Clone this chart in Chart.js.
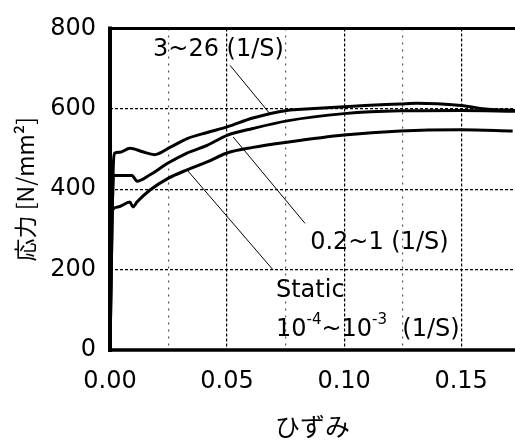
<!DOCTYPE html>
<html>
<head>
<meta charset="utf-8">
<script src="https://cdn.jsdelivr.net/npm/chart.js@4"></script>
<style>
    body { margin: 0; background: #fff; }
    #wrap { width: 515px; height: 441px; }
</style>
</head>
<body>
<div id="wrap"><canvas id="chart"></canvas></div>
<script>
// strain rate 3~26 (1/S) \/
const strainFast = [0, 0.0015, 0.002, 0.0043, 0.0085, 0.014, 0.019, 0.0256, 0.033, 0.0415, 0.050, 0.061, 0.0756, 0.080, 0.100, 0.109, 0.124, 0.131, 0.150, 0.1615, 0.173];
const stressFast = [0, 470, 490, 492, 502, 493, 486, 504, 526, 541, 555, 577, 596, 598, 605, 608, 612, 614, 608, 599, 596];
// strain rate 0.2~1 (1/S) \/
const strainMid = [0, 0.0015, 0.0094, 0.0115, 0.0171, 0.0248, 0.0329, 0.0415, 0.050, 0.061, 0.0756, 0.100, 0.124, 0.150, 0.173];
const stressMid = [0, 434, 434, 420, 436, 465, 490, 509, 534, 551, 570, 588, 595, 596, 594];
// static 10^-4~10^-3 (1/S) \/
const strainStatic = [0, 0.0008, 0.0034, 0.0085, 0.0098, 0.0115, 0.0171, 0.0248, 0.0329, 0.0415, 0.050, 0.061, 0.0756, 0.100, 0.124, 0.150, 0.172];
const stressStatic = [0, 344, 356, 368, 356, 368, 398, 427, 448, 468, 490, 504, 517, 535, 545, 548, 545];

const xTicks = [0, 0.05, 0.10, 0.15];
const xGrid = [0, 0.025, 0.05, 0.075, 0.10, 0.125, 0.15];
const yTicks = [0, 200, 400, 600, 800];

function toPoints(xs, ys) {
    return xs.map((x, i) => ({ x: x, y: ys[i] }));
}

const font = "DejaVu Sans";

// labels and the thin lines pointing at each curve, in data units \/
const notes = [
    { text: "3~26 (1/S)", x: 0.0184, y: 732, from: [0.0513, 708], to: [0.0684, 587] },
    { text: "0.2~1 (1/S)", x: 0.0855, y: 252, from: [0.0833, 315], to: [0.0526, 530] },
    { text: "Static", x: 0.0709, y: 131, from: [0.0697, 199], to: [0.0329, 448] }
];

function isMajor(v) {
    return xTicks.some(t => Math.abs(t - v) < 1e-6);
}

const notesPlugin = {
    id: "notes",
    afterDatasetsDraw(chart) {
        const ctx = chart.ctx;
        const xs = chart.scales.x;
        const ys = chart.scales.y;
        const a = chart.chartArea;
        ctx.save();
        ctx.strokeStyle = "#000";
        ctx.setLineDash([]);

        // axis frame: left, bottom, top
        ctx.lineCap = "square";
        ctx.lineWidth = 4;
        ctx.beginPath();
        ctx.moveTo(a.left, a.top);
        ctx.lineTo(a.left, a.bottom);
        ctx.stroke();
        ctx.lineWidth = 3.5;
        ctx.beginPath();
        ctx.moveTo(a.left, a.bottom);
        ctx.lineTo(a.right, a.bottom);
        ctx.stroke();
        ctx.lineWidth = 3;
        ctx.beginPath();
        ctx.moveTo(a.left, a.top);
        ctx.lineTo(a.right, a.top);
        ctx.stroke();

        // leader lines
        ctx.lineWidth = 1;
        ctx.lineCap = "butt";
        notes.forEach(n => {
            ctx.beginPath();
            ctx.moveTo(xs.getPixelForValue(n.from[0]), ys.getPixelForValue(n.from[1]));
            ctx.lineTo(xs.getPixelForValue(n.to[0]), ys.getPixelForValue(n.to[1]));
            ctx.stroke();
        });

        // label texts
        ctx.fillStyle = "#000";
        ctx.textBaseline = "alphabetic";
        ctx.textAlign = "left";
        ctx.font = "24px '" + font + "'";
        notes.forEach(n => {
            ctx.fillText(n.text, xs.getPixelForValue(n.x), ys.getPixelForValue(n.y));
        });

        // 10^-4 ~ 10^-3 (1/S) line under "Static"
        let px = xs.getPixelForValue(0.0709);
        const py = ys.getPixelForValue(36);
        const parts = [["10", 0], ["-4", 1], ["~10", 0], ["-3", 1], ["  (1/S)", 0]];
        parts.forEach(p => {
            ctx.font = p[1] ? "15px '" + font + "'" : "24px '" + font + "'";
            ctx.fillText(p[0], px, p[1] ? py - 12 : py);
            px += ctx.measureText(p[0]).width;
        });
        ctx.restore();
    }
};

const lineStyle = {
    borderColor: "#000",
    borderWidth: 3,
    pointRadius: 0,
    fill: false,
    cubicInterpolationMode: "monotone"
};

new Chart(document.getElementById("chart"), {
    type: "line",
    data: {
        datasets: [
            Object.assign({ label: "3~26 (1/S)", data: toPoints(strainFast, stressFast) }, lineStyle),
            Object.assign({ label: "0.2~1 (1/S)", data: toPoints(strainMid, stressMid) }, lineStyle),
            Object.assign({ label: "Static", data: toPoints(strainStatic, stressStatic) }, lineStyle)
        ]
    },
    options: {
        responsive: true,
        maintainAspectRatio: false,
        animation: false,
        layout: { padding: { top: 20, right: 0, left: 0, bottom: 0 } },
        plugins: {
            legend: { display: false },
            tooltip: { enabled: false }
        },
        scales: {
            x: {
                type: "linear",
                min: 0,
                max: 0.173,
                afterBuildTicks: s => {
                    s.ticks = xGrid.map(v => ({ value: v }));
                },
                afterFit: s => { s.height = 91; },
                ticks: {
                    padding: 17,
                    color: "#000",
                    font: { family: font, size: 24 },
                    maxRotation: 0,
                    autoSkip: false,
                    callback: v => isMajor(v) ? v.toFixed(2) : ""
                },
                grid: {
                    drawTicks: false,
                    lineWidth: 1.2,
                    color: c => isMajor(c.tick.value) ? "#000" : "#555"
                },
                border: {
                    display: false,
                    dash: c => (c.tick && !isMajor(c.tick.value)) ? [2, 5] : [3, 2]
                },
                title: {
                    display: true,
                    text: "ひずみ",
                    color: "#000",
                    font: { family: "Noto Sans CJK JP", size: 25 },
                    padding: { top: 4, bottom: 0 }
                }
            },
            y: {
                min: 0,
                max: 800,
                afterBuildTicks: s => {
                    s.ticks = yTicks.map(v => ({ value: v }));
                },
                afterFit: s => { s.width = 110; },
                ticks: {
                    padding: 14,
                    color: "#000",
                    font: { family: font, size: 24 }
                },
                grid: {
                    drawTicks: false,
                    lineWidth: 1.2,
                    color: "#000"
                },
                border: {
                    display: false,
                    dash: [3, 2]
                },
                title: {
                    display: true,
                    text: "応力 [N/mm²]",
                    color: "#000",
                    font: { family: "Noto Sans CJK JP", size: 23 },
                    padding: { top: 11, bottom: 4 }
                }
            }
        }
    },
    plugins: [notesPlugin]
});
</script>
</body>
</html>
